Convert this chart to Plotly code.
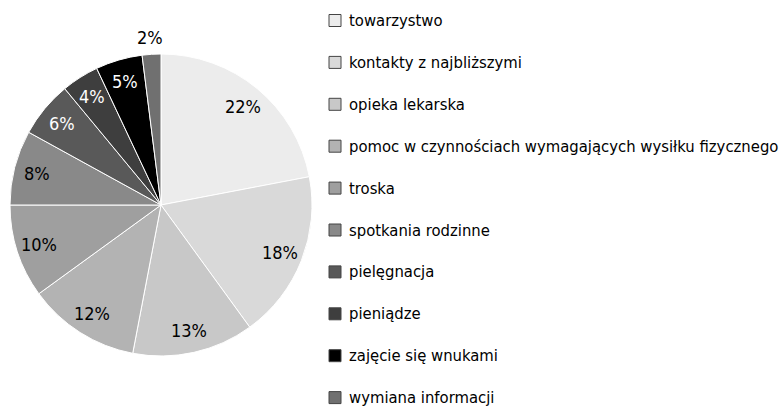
import math
import plotly.graph_objects as go

labels = ["towarzystwo", "kontakty z najbliższymi", "opieka lekarska",
          "pomoc w czynnościach wymagających wysiłku fizycznego", "troska",
          "spotkania rodzinne", "pielęgnacja", "pieniądze",
          "zajęcie się wnukami", "wymiana informacji"]
values = [22, 18, 13, 12, 10, 8, 6, 4, 5, 2]
colors = ["#ececec", "#d9d9d9", "#c8c8c8", "#b3b3b3", "#9f9f9f",
          "#898989", "#595959", "#3e3e3e", "#000000", "#707070"]
text_colors = ["#000000"] * 6 + ["#ffffff"] * 3 + ["#000000"]
label_outside = [False] * 9 + [True]

FONT = "Liberation Sans Narrow, DejaVu Sans Condensed, Arial Narrow, sans-serif"
W, H = 784, 408

# pie geometry (pixels)
PX0, PX1, PY0, PY1 = 10, 312, 54, 356
cx, cy = (PX0 + PX1) / 2, (PY0 + PY1) / 2
R = min(PX1 - PX0, PY1 - PY0) / 2

fig = go.Figure()
fig.add_trace(go.Pie(
    labels=labels, values=values, sort=False, direction="clockwise", rotation=0,
    marker=dict(colors=colors, line=dict(color="#ffffff", width=1)),
    textinfo="none", showlegend=False, hoverinfo="label+percent",
    domain=dict(x=[PX0 / W, PX1 / W], y=[1 - PY1 / H, 1 - PY0 / H]),
))

# percentage labels at slice mid-angles
total = sum(values)
cum = 0
for v, tc, out in zip(values, text_colors, label_outside):
    mid = (cum + v / 2) / total * 2 * math.pi
    cum += v
    rf = 1.11 if out else 0.85
    x = cx + rf * R * math.sin(mid)
    y = cy - rf * R * math.cos(mid)
    fig.add_annotation(x=x / W, y=1 - y / H, xref="paper", yref="paper",
                       text=f"{v}%", showarrow=False, xanchor="center",
                       yanchor="middle",
                       font=dict(family=FONT, size=18, color=tc))

# legend
for i, (lab, col) in enumerate(zip(labels, colors)):
    yc = 20.5 + 41.9 * i
    fig.add_shape(type="rect", xref="paper", yref="paper",
                  x0=329 / W, x1=341 / W, y0=1 - (yc + 6) / H, y1=1 - (yc - 6) / H,
                  fillcolor=col, line=dict(color="#444444", width=1))
    fig.add_annotation(x=347 / W, y=1 - yc / H, xref="paper", yref="paper",
                       text=lab, showarrow=False, xanchor="left", yanchor="middle",
                       font=dict(family=FONT, size=16.5, color="#000000"))

fig.update_layout(
    width=W, height=H, margin=dict(l=0, r=0, t=0, b=0),
    paper_bgcolor="white", plot_bgcolor="white",
    font=dict(family=FONT, size=16, color="#000000"),
)
fig.write_html("out.html", config={"displayModeBar": False},
               post_script="document.body.style.margin='0';document.body.style.overflow='hidden';")
